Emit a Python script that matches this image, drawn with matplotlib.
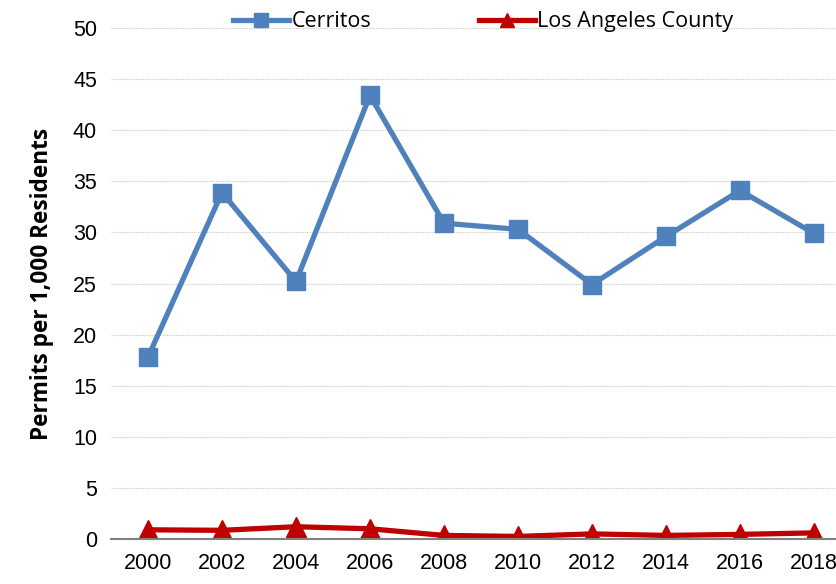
import matplotlib
matplotlib.use("Agg")
import matplotlib.pyplot as plt

years = ["2000", "2002", "2004", "2006", "2008", "2010", "2012", "2014", "2016", "2018"]
cerritos = [17.8, 33.9, 25.2, 43.4, 30.9, 30.3, 24.9, 29.6, 34.1, 29.9]
la_county = [0.9, 0.85, 1.2, 1.0, 0.35, 0.25, 0.5, 0.35, 0.45, 0.6]
yticks = [0, 5, 10, 15, 20, 25, 30, 35, 40, 45, 50]

tick_font = ["Liberation Sans Narrow", "Liberation Sans", "DejaVu Sans"]
label_font = ["Open Sans", "DejaVu Sans"]

fig = plt.figure(figsize=(8.36, 5.84), dpi=100)
ax = fig.add_axes([111 / 836, 45 / 584, 740 / 836, 511 / 584])

x = list(range(len(years)))
ax.plot(x, cerritos, color="#4F81BD", linewidth=3.8, marker="s", markersize=13,
        label="Cerritos")
ax.plot(x, la_county, color="#C00000", linewidth=3.8, marker="^", markersize=14,
        label="Los Angeles County")

ax.set_xlim(-0.5, 9.5)
ax.set_ylim(0, 50)
ax.set_xticks(x)
ax.set_xticklabels(years, fontsize=15.5, family=tick_font)
ax.set_yticks(yticks)
ax.set_yticklabels([str(v) for v in yticks], fontsize=15.5, family=tick_font)
ax.tick_params(length=0, pad=10)

ax.grid(axis="y", color="#C8C8C8", linestyle=(0, (1, 1)), linewidth=0.8)
ax.set_axisbelow(True)
for s in ["top", "right", "left"]:
    ax.spines[s].set_visible(False)
ax.spines["bottom"].set_color("#808080")
ax.spines["bottom"].set_linewidth(1.5)

ax.set_ylabel("Permits per 1,000 Residents", fontsize=16.3, fontweight="bold",
              family=label_font, labelpad=14)

leg = ax.legend(loc="lower center", bbox_to_anchor=(0.503, 0.975), ncol=2,
                frameon=False, prop={"family": label_font, "size": 15.5},
                handlelength=2.6, columnspacing=5.0, borderaxespad=0,
                handletextpad=0.1, markerscale=0.75)

fig.savefig("out.png", dpi=100)
